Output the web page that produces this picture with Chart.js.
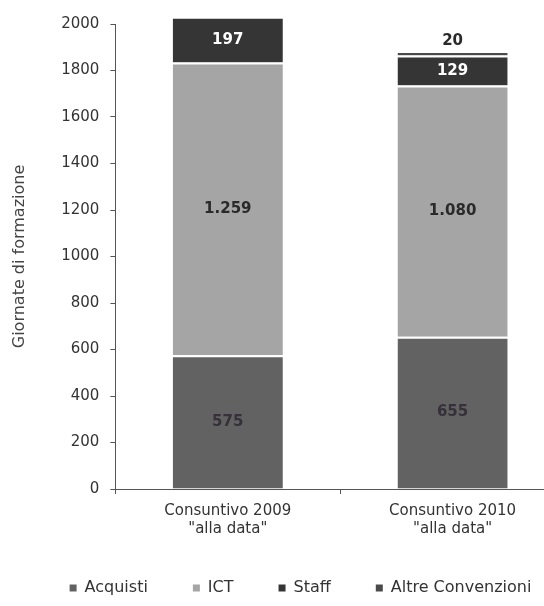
<!DOCTYPE html>
<html>
<head>
<meta charset="utf-8">
<script src="https://cdn.jsdelivr.net/npm/chart.js@4/dist/chart.umd.min.js"></script>
<style>
  html, body { margin: 0; padding: 0; background: #ffffff; overflow: hidden; }
  #wrap { position: relative; width: 601px; height: 606px; }
</style>
</head>
<body>
<div id="wrap"><canvas id="chart"></canvas></div>
<script>
// Categories (two-line axis labels)
const categories = [
  ['Consuntivo 2009', '"alla data"'],
  ['Consuntivo 2010', '"alla data"']
];

// Series, stacked bottom to top
const seriesNames = ['Acquisti', 'ICT', 'Staff', 'Altre Convenzioni'];
const acquisti = [575, 655];
const ict = [1259, 1080];
const staff = [197, 129];
const altreConvenzioni = [0, 20];

// Y axis ticks
const yMin = 0;
const yMax = 2000;
const yStep = 200;

const seriesValues = [acquisti, ict, staff, altreConvenzioni];
const seriesColors = ['#626262', '#a5a5a5', '#353535', '#4a4a4a'];
const FONT = 'DejaVu Sans';

// How each series prints its value
const labelStyles = [
  { color: '#36303a', weight: 'bold', above: false },
  { color: '#2a2a2a', weight: 'bold', above: false },
  { color: '#ffffff', weight: 'bold', above: false },
  { color: '#2a2a2a', weight: 'bold', above: true }
];

// Italian thousands separator
function fmt(v) {
  return String(v).replace(/\B(?=(\d{3})+(?!\d))/g, '.');
}

const valueLabels = {
  id: 'valueLabels',
  afterDatasetsDraw(chart) {
    const ctx = chart.ctx;
    chart.data.datasets.forEach((ds, di) => {
      const meta = chart.getDatasetMeta(di);
      if (meta.hidden) return;
      const st = labelStyles[di];
      meta.data.forEach((bar, i) => {
        const v = ds.data[i];
        if (!v) return;
        ctx.save();
        ctx.font = st.weight + ' 15px "' + FONT + '"';
        ctx.fillStyle = st.color;
        ctx.textAlign = 'center';
        ctx.textBaseline = 'middle';
        const y = st.above ? bar.y - 10 : (bar.y + bar.base) / 2;
        ctx.fillText(fmt(v), bar.x, y);
        ctx.restore();
      });
    });
  }
};

const datasets = seriesNames.map((name, k) => ({
  label: name,
  data: seriesValues[k],
  yAxisID: 'y',
  backgroundColor: seriesColors[k],
  borderColor: '#ffffff',
  borderWidth: { top: 2, right: 0, bottom: 0, left: 0 },
  borderSkipped: false,
  categoryPercentage: 1.0,
  barPercentage: 0.49,
  clip: false
}));

new Chart(document.getElementById('chart'), {
  type: 'bar',
  data: { labels: categories, datasets },
  plugins: [valueLabels],
  options: {
    responsive: true,
    maintainAspectRatio: false,
    devicePixelRatio: 1,
    animation: false,
    layout: { padding: { left: 0, top: 24, right: 0, bottom: 0 } },
    plugins: {
      tooltip: { enabled: false },
      legend: {
        position: 'bottom',
        labels: {
          boxWidth: 7,
          boxHeight: 7,
          padding: 45,
          color: '#333333',
          font: { family: FONT, size: 16 },
          generateLabels(chart) {
            return chart.data.datasets.map((ds, i) => ({
              text: ds.label,
              fillStyle: ds.backgroundColor,
              strokeStyle: ds.backgroundColor,
              lineWidth: 0,
              hidden: false,
              datasetIndex: i,
              fontColor: '#333333'
            }));
          }
        }
      }
    },
    scales: {
      x: {
        stacked: true,
        offset: true,
        afterFit(scale) { scale.height = 46; },
        grid: {
          offset: true,
          drawOnChartArea: false,
          drawTicks: true,
          tickLength: 5,
          color: '#555555'
        },
        border: { display: true, color: '#555555', width: 1 },
        ticks: {
          color: '#333333',
          padding: 8,
          maxRotation: 0,
          autoSkip: false,
          font: { family: FONT, size: 15, lineHeight: 1.2 }
        }
      },
      y: {
        stacked: true,
        min: yMin,
        max: yMax,
        grid: {
          drawOnChartArea: false,
          drawTicks: true,
          tickLength: 5,
          color: '#555555'
        },
        border: { display: true, color: '#555555', width: 1 },
        ticks: {
          stepSize: yStep,
          padding: 11,
          color: '#333333',
          font: { family: FONT, size: 15 },
          callback: (v) => String(v)
        },
        title: {
          display: true,
          text: 'Giornate di formazione',
          color: '#444444',
          font: { family: FONT, size: 16 },
          padding: { top: 10.5, bottom: 20.5 }
        }
      },
      // empty right-hand margin axis: keeps the plot narrower than the legend row
      yRight: {
        type: 'linear',
        position: 'right',
        display: true,
        afterFit(scale) { scale.width = 36; },
        grid: { display: false, drawTicks: false },
        border: { display: false },
        ticks: { display: false }
      }
    }
  }
});
</script>
</body>
</html>
